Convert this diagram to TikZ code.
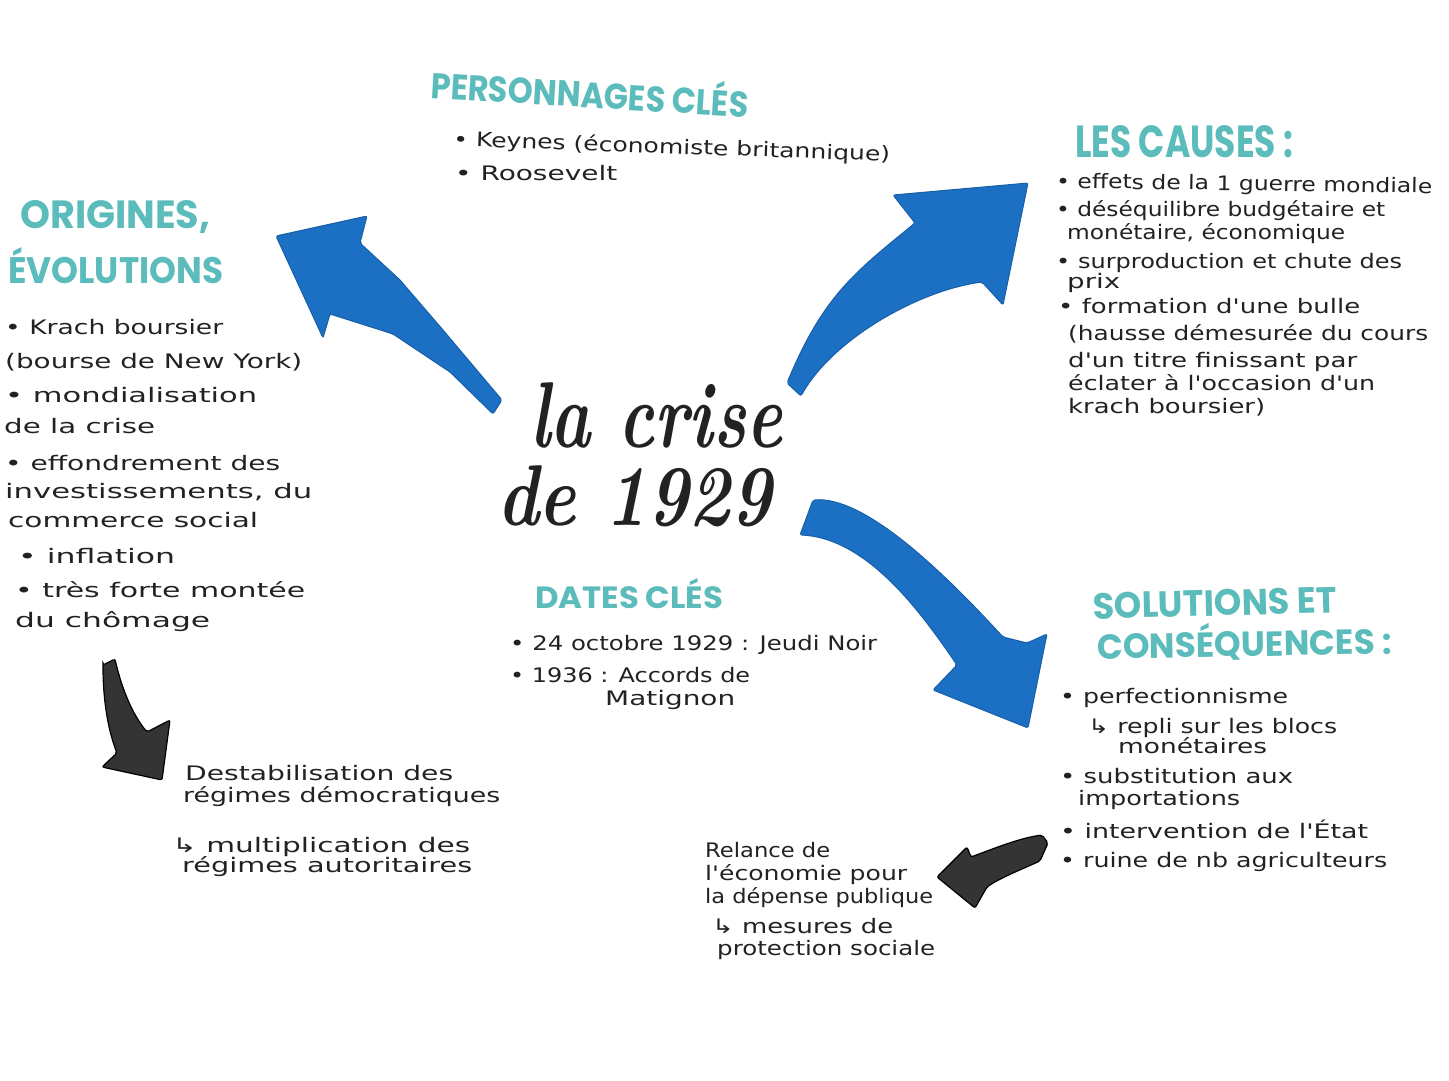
\documentclass[tikz,border=0pt]{standalone}
\usepackage{fontspec}
\usepackage{graphicx}
\newfontfamily\handfont{DejaVu Sans}
\newfontfamily\headfont{Poppins}
\definecolor{headteal}{RGB}{92,188,188}
\definecolor{arrowblue}{RGB}{27,112,196}
\definecolor{inkdark}{RGB}{34,34,34}
\definecolor{arrowdark}{RGB}{52,52,52}
\newcommand\fw[2]{\resizebox{#1pt}{\height}{#2}}
\newcommand\fwh[3]{\resizebox{#1pt}{#2pt}{#3}}
\tikzset{
  hand/.style={font=\handfont\fontsize{20}{24}\selectfont, text=inkdark, inner sep=0pt, anchor=base west},
  head/.style={font=\headfont\bfseries\fontsize{30}{34}\selectfont, text=headteal, inner sep=0pt, anchor=base west},
  title/.style={font=\rmfamily\bfseries\itshape\fontsize{80}{90}\selectfont, text=inkdark, inner sep=0pt, anchor=base west},
  bluearrow/.style={fill=arrowblue, draw=arrowblue!85!black, line width=1pt, rounded corners=2pt},
  darkarrow/.style={fill=arrowdark, draw=black, line width=1.2pt, rounded corners=2pt}
}
\begin{document}
\begin{tikzpicture}[x=1pt, y=-1pt]
\useasboundingbox (0,0) rectangle (1449,1080);
\fill[white] (0,0) rectangle (1449,1080);

% ---- arrows ----
% top-left
\fill[bluearrow] (502,400) -- (493,414) -- (450,372) -- (393,334) -- (330,314)
  -- (323,338) -- (276,236) -- (367,216) -- (360,243)
  -- (400,280) -- (443,330) -- cycle;
% top-right
\fill[bluearrow] (787,383) .. controls (823,296) and (855,272) .. (915,223)
  -- (893,195) -- (1028,183) -- (1003,305) -- (982,282)
  .. controls (917,291) and (832,340) .. (801,396) -- cycle;
% bottom-right
\fill[bluearrow] (813,500) .. controls (866,496) and (946,575) .. (1003,637) -- (1027,643)
  -- (1047,634) -- (1028,728) -- (933,690) -- (957,665)
  .. controls (926,620) and (870,538) .. (800,535) -- cycle;
% dark left
\filldraw[darkarrow] (103,665) -- (115,659) .. controls (122,690) and (133,715) .. (147,732)
  -- (170,720) -- (162,780) -- (102,767) -- (117,753)
  .. controls (108,730) and (103,700) .. (103,665) -- cycle;
% dark bottom
\filldraw[darkarrow] (937,877) -- (967,847) -- (971,857)
  .. controls (995,848) and (1020,838) .. (1042,835) -- (1048,843) -- (1040,861)
  .. controls (1020,870) and (1000,878) .. (987,887) -- (975,908) -- cycle;

% ---- title ----
\node[title] (t1) at (530,447) {\fwh{252}{65}{la crise}};
\node[title] (t2) at (497,525) {\fwh{275}{60}{de 1929}};

% ---- personnages ----
\node[head, rotate=-3.5] (p0) at (430,98) {\fwh{318}{35}{PERSONNAGES CLÉS}};
\node[hand, rotate=-2] (p1) at (453,146) {\fw{437}{• Keynes (économiste britannique)}};
\node[hand] (p2) at (455,180) {\fw{162}{• Roosevelt}};

% ---- origines ----
\node[head] (o0) at (20,228) {\fwh{190}{28}{ORIGINES,}};
\node[head] (o00) at (8,283) {\fwh{215}{36}{ÉVOLUTIONS}};
\node[hand] (o1) at (5,334) {\fw{218}{• Krach boursier}};
\node[hand] (o2) at (5,368) {\fw{297}{(bourse de New York)}};
\node[hand] (o3) at (5,402) {\fw{252}{• mondialisation}};
\node[hand] (o4) at (4,433) {\fw{151}{de la crise}};
\node[hand] (o5) at (5,470) {\fw{275}{• effondrement des}};
\node[hand] (o6) at (5,498) {\fw{307}{investissements, du}};
\node[hand] (o7) at (8,527) {\fw{250}{commerce social}};
\node[hand] (o8) at (18,563) {\fw{157}{• inflation}};
\node[hand] (o9) at (15,597) {\fw{290}{• très forte montée}};
\node[hand] (o10) at (15,627) {\fw{195}{du chômage}};

% ---- causes ----
\node[head] (c0) at (1075,157) {\fwh{218}{32}{LES CAUSES :}};
\node[hand, rotate=-0.8] (c1) at (1056,188) {\fw{376}{• effets de la 1 guerre mondiale}};
\node[hand] (c2) at (1056,216) {\fw{329}{• déséquilibre budgétaire et}};
\node[hand] (c3) at (1067,239) {\fw{278}{monétaire, économique}};
\node[hand] (c4) at (1056,268) {\fw{346}{• surproduction et chute des}};
\node[hand] (c5) at (1067,288) {\fw{53}{prix}};
\node[hand] (c6) at (1058,313) {\fw{302}{• formation d'une bulle}};
\node[hand] (c7) at (1068,340) {\fw{360}{(hausse démesurée du cours}};
\node[hand] (c8) at (1068,367) {\fw{289}{d'un titre finissant par}};
\node[hand] (c9) at (1068,390) {\fw{307}{éclater à l'occasion d'un}};
\node[hand] (c10) at (1068,413) {\fw{197}{krach boursier)}};

% ---- dates ----
\node[head] (d0) at (535,608) {\fwh{188}{30}{DATES CLÉS}};
\node[hand] (d1) at (510,650) {\fw{367}{• 24 octobre 1929 : Jeudi Noir}};
\node[hand] (d2) at (510,682) {\fw{240}{• 1936 : Accords de}};
\node[hand] (d3) at (605,705) {\fw{130}{Matignon}};

% ---- solutions ----
\node[head, rotate=1.5] (s0) at (1093,619) {\fwh{244}{26}{SOLUTIONS ET}};
\node[head, rotate=1] (s00) at (1097,659) {\fwh{295}{34}{CONSÉQUENCES :}};
\node[hand] (s1) at (1060,703) {\fw{228}{• perfectionnisme}};
\node[hand] (s2) at (1088,733) {\fw{249}{↳ repli sur les blocs}};
\node[hand] (s3) at (1118,753) {\fw{149}{monétaires}};
\node[hand] (s4) at (1060,783) {\fw{233}{• substitution aux}};
\node[hand] (s5) at (1078,805) {\fw{162}{importations}};
\node[hand] (s6) at (1060,838) {\fw{308}{• intervention de l'État}};
\node[hand] (s7) at (1060,867) {\fw{327}{• ruine de nb agriculteurs}};

% ---- bottom left ----
\node[hand] (b1) at (185,780) {\fw{268}{Destabilisation des}};
\node[hand] (b2) at (183,802) {\fw{317}{régimes démocratiques}};
\node[hand] (b3) at (172,852) {\fw{298}{↳ multiplication des}};
\node[hand] (b4) at (182,872) {\fw{290}{régimes autoritaires}};

% ---- bottom middle ----
\node[hand] (m1) at (705,857) {\fw{125}{Relance de}};
\node[hand] (m2) at (705,880) {\fw{202}{l'économie pour}};
\node[hand] (m3) at (705,903) {\fw{228}{la dépense publique}};
\node[hand] (m4) at (712,933) {\fw{181}{↳ mesures de}};
\node[hand] (m5) at (717,955) {\fw{218}{protection sociale}};
\end{tikzpicture}
\end{document}
